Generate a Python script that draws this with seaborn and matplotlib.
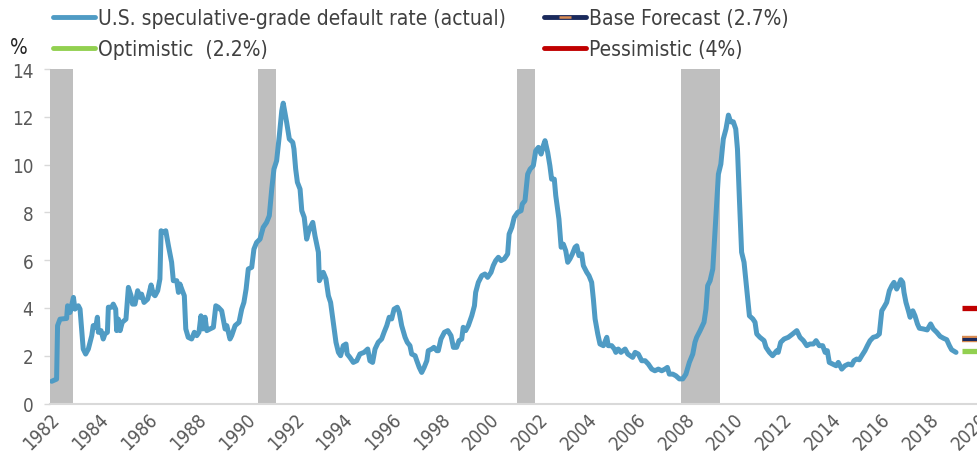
import pandas as pd
import matplotlib
matplotlib.use("Agg")
import matplotlib.pyplot as plt
import matplotlib.patheffects as pe
import seaborn as sns
from matplotlib.lines import Line2D
from matplotlib.legend_handler import HandlerTuple

# ================================
# Data
# ================================

years = [
    1982.07, 1982.27, 1982.31, 1982.41, 1982.68, 1982.72, 1982.82, 1982.96, 1983.02, 1983.16,
    1983.23, 1983.36, 1983.46, 1983.57, 1983.71, 1983.77, 1983.87, 1983.94, 1983.98, 1984.09,
    1984.18, 1984.25, 1984.35, 1984.39, 1984.53, 1984.59, 1984.69, 1984.73, 1984.80, 1984.87,
    1984.96, 1985.11, 1985.21, 1985.32, 1985.38, 1985.48, 1985.59, 1985.69, 1985.75, 1985.85,
    1986.00, 1986.14, 1986.23, 1986.30, 1986.41, 1986.50, 1986.55, 1986.64, 1986.74, 1986.85,
    1986.98, 1987.05, 1987.19, 1987.26, 1987.32, 1987.42, 1987.50, 1987.56, 1987.66, 1987.80,
    1987.91, 1988.01, 1988.10, 1988.18, 1988.25, 1988.35, 1988.42, 1988.55, 1988.69, 1988.79,
    1988.89, 1989.03, 1989.17, 1989.24, 1989.37, 1989.44, 1989.58, 1989.74, 1989.85, 1989.94,
    1990.03, 1990.12, 1990.26, 1990.35, 1990.46, 1990.60, 1990.73, 1990.87, 1990.98, 1991.08,
    1991.17, 1991.28, 1991.39, 1991.49, 1991.55, 1991.69, 1991.80, 1991.94, 1991.99, 1992.06,
    1992.13, 1992.24, 1992.31, 1992.41, 1992.51, 1992.62, 1992.76, 1992.85, 1992.99, 1993.03,
    1993.19, 1993.30, 1993.40, 1993.49, 1993.60, 1993.71, 1993.81, 1993.90, 1994.01, 1994.12,
    1994.17, 1994.28, 1994.42, 1994.56, 1994.69, 1994.86, 1995.01, 1995.10, 1995.21, 1995.31,
    1995.44, 1995.58, 1995.68, 1995.79, 1995.89, 1995.99, 1996.09, 1996.22, 1996.30, 1996.40,
    1996.54, 1996.63, 1996.74, 1996.81, 1996.95, 1997.02, 1997.12, 1997.22, 1997.32, 1997.43,
    1997.49, 1997.63, 1997.72, 1997.84, 1997.90, 1998.01, 1998.15, 1998.29, 1998.42, 1998.52,
    1998.65, 1998.75, 1998.86, 1998.92, 1999.02, 1999.13, 1999.27, 1999.38, 1999.43, 1999.54,
    1999.68, 1999.81, 1999.92, 2000.06, 2000.15, 2000.25, 2000.36, 2000.47, 2000.60, 2000.74,
    2000.80, 2000.91, 2001.01, 2001.15, 2001.29, 2001.34, 2001.45, 2001.56, 2001.66, 2001.79,
    2001.89, 2002.00, 2002.11, 2002.20, 2002.27, 2002.38, 2002.47, 2002.54, 2002.65, 2002.71,
    2002.84, 2002.93, 2003.02, 2003.12, 2003.20, 2003.29, 2003.39, 2003.50, 2003.57, 2003.66,
    2003.77, 2003.84, 2003.98, 2004.07, 2004.18, 2004.25, 2004.32, 2004.43, 2004.52, 2004.66,
    2004.80, 2004.86, 2005.00, 2005.11, 2005.17, 2005.27, 2005.38, 2005.55, 2005.66, 2005.86,
    2005.96, 2006.09, 2006.23, 2006.37, 2006.50, 2006.64, 2006.77, 2006.91, 2007.05, 2007.18,
    2007.28, 2007.36, 2007.50, 2007.63, 2007.77, 2007.91, 2008.04, 2008.18, 2008.32, 2008.41,
    2008.48, 2008.62, 2008.78, 2008.86, 2008.93, 2009.03, 2009.14, 2009.23, 2009.30, 2009.37,
    2009.47, 2009.57, 2009.68, 2009.78, 2009.87, 2009.98, 2010.08, 2010.15, 2010.23, 2010.32,
    2010.42, 2010.53, 2010.64, 2010.78, 2010.87, 2010.94, 2011.07, 2011.24, 2011.32, 2011.46,
    2011.59, 2011.76, 2011.82, 2011.92, 2012.06, 2012.23, 2012.41, 2012.58, 2012.71, 2012.85,
    2012.99, 2013.12, 2013.26, 2013.37, 2013.50, 2013.64, 2013.74, 2013.83, 2013.91, 2014.05,
    2014.19, 2014.28, 2014.42, 2014.55, 2014.69, 2014.83, 2014.92, 2015.03, 2015.14, 2015.24,
    2015.37, 2015.47, 2015.58, 2015.71, 2015.85, 2015.96, 2016.06, 2016.15, 2016.26, 2016.37,
    2016.47, 2016.56, 2016.67, 2016.74, 2016.84, 2016.92, 2016.97, 2017.05, 2017.15, 2017.22,
    2017.33, 2017.42, 2017.52, 2017.60, 2017.76, 2017.92, 2018.06, 2018.17, 2018.31, 2018.45,
    2018.59, 2018.72, 2018.83, 2018.92, 2019.10,
]

rates = [
    0.93, 1.02, 3.26, 3.53, 3.56, 4.09, 3.81, 4.44, 3.95, 4.09,
    3.95, 2.28, 2.07, 2.28, 2.84, 3.26, 3.19, 3.61, 2.98, 3.05,
    2.70, 2.91, 2.98, 4.03, 4.03, 4.16, 3.95, 3.05, 3.53, 3.05,
    3.40, 3.53, 4.86, 4.51, 4.16, 4.16, 4.72, 4.44, 4.58, 4.23,
    4.37, 4.96, 4.58, 4.51, 4.72, 5.21, 7.23, 7.16, 7.23, 6.60,
    5.91, 5.14, 5.14, 4.65, 5.00, 4.72, 4.51, 3.12, 2.77, 2.70,
    2.98, 2.84, 2.98, 3.67, 3.12, 3.61, 3.05, 3.12, 3.19, 4.09,
    4.03, 3.88, 3.12, 3.26, 2.70, 2.84, 3.26, 3.40, 3.95, 4.23,
    4.79, 5.63, 5.70, 6.46, 6.74, 6.88, 7.37, 7.58, 7.86, 8.97,
    9.81, 10.16, 11.21, 12.25, 12.57, 11.77, 11.07, 10.93, 10.65, 9.81,
    9.26, 8.97, 8.07, 7.79, 6.88, 7.30, 7.58, 7.02, 6.33, 5.14,
    5.49, 5.21, 4.51, 4.23, 3.40, 2.56, 2.14, 2.00, 2.42, 2.49,
    2.07, 1.93, 1.72, 1.79, 2.07, 2.14, 2.28, 1.79, 1.72, 2.28,
    2.56, 2.70, 2.98, 3.26, 3.61, 3.54, 3.95, 4.03, 3.82, 3.26,
    2.77, 2.56, 2.42, 2.07, 2.00, 1.79, 1.51, 1.30, 1.51, 1.79,
    2.21, 2.28, 2.35, 2.21, 2.21, 2.70, 2.98, 3.05, 2.84, 2.35,
    2.35, 2.63, 2.70, 3.19, 3.05, 3.26, 3.67, 4.09, 4.65, 5.07,
    5.35, 5.42, 5.28, 5.49, 5.77, 5.98, 6.12, 5.98, 6.05, 6.26,
    7.09, 7.37, 7.79, 8.00, 8.07, 8.35, 8.49, 9.60, 9.81, 9.95,
    10.58, 10.72, 10.44, 10.79, 11.00, 10.51, 9.95, 9.39, 9.39, 8.70,
    7.72, 6.54, 6.67, 6.39, 5.91, 6.05, 6.26, 6.54, 6.60, 6.19,
    6.26, 5.77, 5.49, 5.35, 5.07, 4.37, 3.54, 2.91, 2.49, 2.42,
    2.77, 2.42, 2.42, 2.28, 2.14, 2.28, 2.14, 2.28, 2.07, 1.93,
    2.14, 2.07, 1.79, 1.79, 1.65, 1.44, 1.37, 1.44, 1.37, 1.44,
    1.51, 1.23, 1.23, 1.16, 1.03, 1.03, 1.23, 1.72, 2.07, 2.56,
    2.77, 3.05, 3.40, 3.95, 4.93, 5.14, 5.63, 7.16, 8.42, 9.60,
    10.02, 11.07, 11.49, 12.07, 11.79, 11.79, 11.49, 10.65, 8.56, 6.33,
    5.91, 4.79, 3.67, 3.54, 3.40, 2.91, 2.77, 2.63, 2.35, 2.14,
    2.00, 2.21, 2.14, 2.56, 2.70, 2.77, 2.91, 3.05, 2.77, 2.63,
    2.42, 2.49, 2.49, 2.63, 2.42, 2.42, 2.14, 2.21, 1.72, 1.65,
    1.58, 1.72, 1.44, 1.58, 1.65, 1.61, 1.79, 1.86, 1.83, 2.00,
    2.21, 2.42, 2.63, 2.77, 2.81, 2.91, 3.88, 4.03, 4.23, 4.72,
    4.93, 5.07, 4.79, 4.93, 5.18, 5.07, 4.65, 4.23, 3.88, 3.61,
    3.88, 3.67, 3.33, 3.15, 3.12, 3.08, 3.33, 3.12, 2.98, 2.81,
    2.73, 2.67, 2.42, 2.25, 2.14,
]

# recession periods (start, end) in decimal years
recession_starts = [1982.0, 1990.53, 2001.12, 2007.84]
recession_ends = [1982.95, 1991.25, 2001.86, 2009.42]

# forecast markers drawn at the right edge
forecast_years = [2019.33, 2020.0]
base_rate = 2.7
optimistic_rate = 2.2
pessimistic_rate = 4.0

actual_label = "U.S. speculative-grade default rate (actual)"
base_label = "Base Forecast (2.7%)"
optimistic_label = "Optimistic  (2.2%)"
pessimistic_label = "Pessimistic (4%)"

# ================================
# Style
# ================================

sns.set_style("white")
plt.rcParams['font.family'] = ['DejaVu Sans']
plt.rcParams['font.stretch'] = 'condensed'

blue = '#4f9bc4'
navy = '#1b2a5c'
orange = '#d98b52'
green = '#92d050'
red = '#c00000'
grey_text = '#595959'

fig = plt.figure(figsize=(9.78, 4.52), dpi=100)
ax = fig.add_axes([50 / 978, 47.5 / 452, 928 / 978, 334.5 / 452])

# recession shading
for start, end in zip(recession_starts, recession_ends):
    ax.axvspan(start, end, color='#bfbfbf', lw=0, zorder=1)

# actual default rate
df = pd.DataFrame({'year': years, 'rate': rates})
sns.lineplot(data=df, x='year', y='rate', ax=ax, color=blue, lw=3.6,
             estimator=None, zorder=3)

# forecasts
ax.plot(forecast_years, [pessimistic_rate] * 2, color=red, lw=3.8, solid_capstyle='butt', zorder=4)
ax.plot(forecast_years, [optimistic_rate] * 2, color=green, lw=3.8, solid_capstyle='butt', zorder=4)
ax.plot(forecast_years, [base_rate] * 2, color=navy, lw=2.2, solid_capstyle='butt', zorder=5,
        path_effects=[pe.Stroke(linewidth=4.6, foreground=orange), pe.Normal()])

# ================================
# Axes
# ================================

ax.set_xlim(1982, 2020)
ax.set_ylim(0, 14)
ax.set_xticks(range(1982, 2021, 2))
ax.set_yticks(range(0, 15, 2))
ax.set_xlabel('')
ax.set_ylabel('')

for side in ['top', 'right', 'left']:
    ax.spines[side].set_visible(False)
ax.spines['bottom'].set_color('#d9d9d9')
ax.spines['bottom'].set_linewidth(1.5)

ax.tick_params(axis='y', left=True, length=4, width=1, color='#d9d9d9', pad=8,
               labelsize=13.5, labelcolor=grey_text)
ax.tick_params(axis='x', bottom=False, length=0, pad=4, labelsize=13.5, labelcolor=grey_text)
for lbl in ax.get_xticklabels():
    lbl.set_rotation(45)
    lbl.set_ha('right')
    lbl.set_va('top')
    lbl.set_rotation_mode('anchor')

fig.text(10 / 978, 1 - 48 / 452, '%', fontsize=15, color='#262626', va='center', ha='left')

# ================================
# Legend
# ================================

h_actual = Line2D([], [], color=blue, lw=3.5)
h_opt = Line2D([], [], color=green, lw=3.5)
h_pess = Line2D([], [], color=red, lw=3.5)
h_base = (Line2D([], [], color=navy, lw=3.5),
          Line2D([], [], ls='none', marker='_', markersize=9, mew=1.8, color=orange))

leg_kw = dict(loc='upper left', frameon=False, fontsize=15, handlelength=2.0,
              handletextpad=0.15, labelspacing=0.55, borderpad=0, borderaxespad=0,
              labelcolor='#404040')
fig.legend([h_actual, h_opt], [actual_label, optimistic_label],
           bbox_to_anchor=(53 / 978, 1 - 9 / 452), **leg_kw)
fig.legend([h_base, h_pess], [base_label, pessimistic_label],
           bbox_to_anchor=(544 / 978, 1 - 9 / 452),
           handler_map={tuple: HandlerTuple(ndivide=1)}, **leg_kw)

fig.savefig('out.png', dpi=100)
